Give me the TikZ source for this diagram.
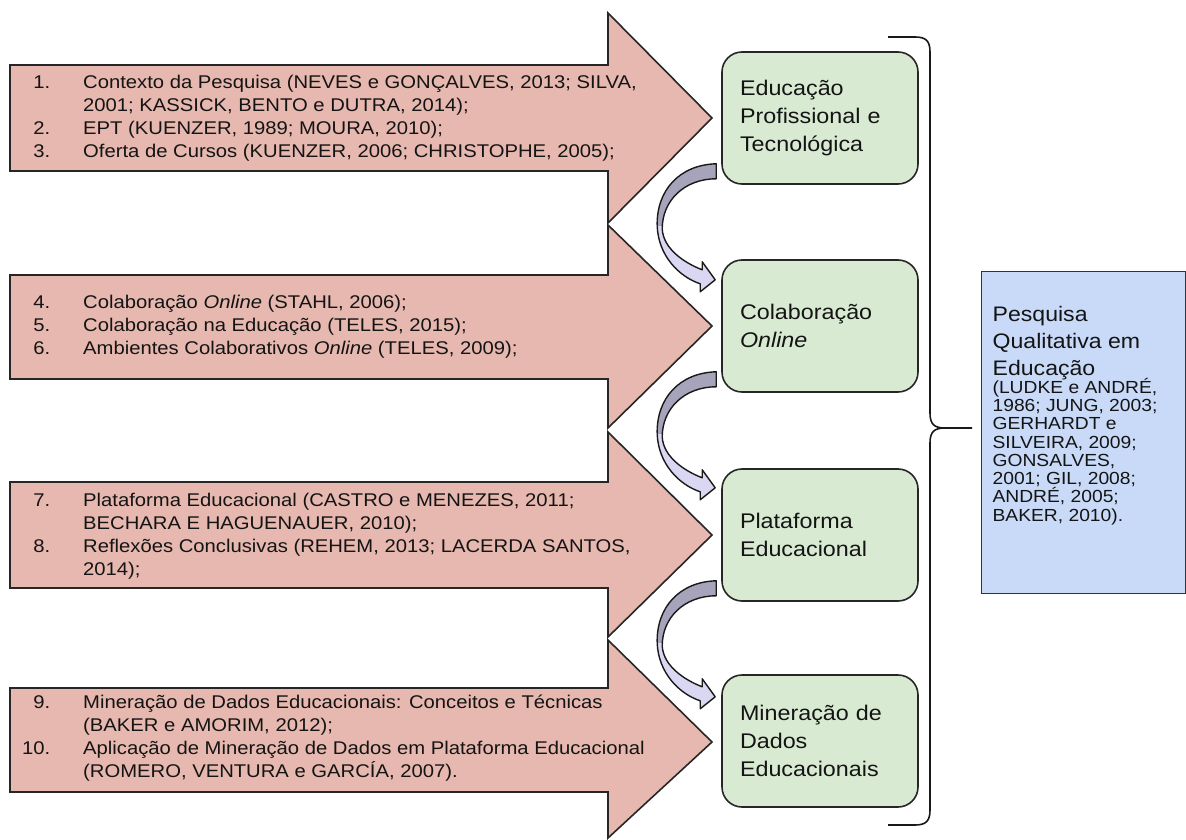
\documentclass[tikz,border=0pt]{standalone}
\usepackage{fontspec}
\setmainfont{Liberation Sans}[FakeStretch=1.1]
\definecolor{pinkfill}{HTML}{E6B8AF}
\definecolor{greenfill}{HTML}{D9EAD3}
\definecolor{bluefill}{HTML}{C9DAF8}
\definecolor{lavfill}{HTML}{D9D7F1}
\definecolor{grayfill}{HTML}{A6A4BA}
\definecolor{textc}{HTML}{141414}
\newcommand\itm[1]{\makebox[40pt][r]{#1}\hspace{33pt}}
\newcommand\cont{\hspace*{73pt}}
\def\cpath{(-5,-21) .. controls (-42,-20) and (-65,6) .. (-64,41) .. controls (-63,71) and (-42,92) .. (-21,99) -- (-21,107) -- (-6,95) -- (-19,77) -- (-19,85) .. controls (-37,78) and (-58,64) .. (-59,44) .. controls (-59,16) and (-37,-6) .. (-5,-6) -- cycle}
\newcommand\curvarrow[1]{%
  \begin{scope}[shift={(#1.south west)}]
    \begin{scope}
      \clip \cpath;
      \fill[lavfill] (-80,-30) rectangle (5,120);
      \fill[grayfill] (-80,-30) rectangle (5,41);
    \end{scope}
    \draw[line width=1.4pt, line join=round, draw=black!90] \cpath;
  \end{scope}}
\begin{document}
\begin{tikzpicture}[x=1pt,y=-1pt,
  bigarrow/.style={draw=black!85, line width=1.6pt, fill=pinkfill, line join=miter},
  atext/.style={anchor=west, align=left, inner sep=0pt, font=\fontsize{18.4}{23}\selectfont, text=textc},
  gbox/.style={draw=black!85, line width=1.6pt, fill=greenfill, rounded corners=20pt,
    minimum width=196pt, minimum height=132pt, text width=160pt, inner xsep=18pt,
    align=left, font=\fontsize{21.2}{28}\selectfont, text=textc},
  qbox/.style={draw=black!80, line width=1.2pt, fill=bluefill, anchor=north west, inner sep=0pt,
    minimum width=204pt, minimum height=322pt, text=textc},
  brace/.style={line width=1.6pt, draw=black!90}]
\useasboundingbox (0,0) rectangle (1186,840);

% big arrows
\draw[bigarrow] (10,65) -- (608,65) -- (608,13) -- (712,118) -- (608,223) -- (608,171) -- (10,171) -- cycle;
\draw[bigarrow] (10,275) -- (608,275) -- (608,225) -- (712,326) -- (608,428) -- (608,379) -- (10,379) -- cycle;
\draw[bigarrow] (10,482) -- (608,482) -- (608,432) -- (712,535) -- (608,637) -- (608,588) -- (10,588) -- cycle;
\draw[bigarrow] (10,688) -- (608,688) -- (608,640) -- (712,742) -- (608,838) -- (608,792) -- (10,792) -- cycle;

\node[atext] (t1) at (10,118) {\itm{1.}Contexto da Pesquisa (NEVES e GONÇALVES, 2013; SILVA,\\\cont 2001; KASSICK, BENTO e DUTRA, 2014);\\\itm{2.}EPT (KUENZER, 1989; MOURA, 2010);\\\itm{3.}Oferta de Cursos (KUENZER, 2006; CHRISTOPHE, 2005);};
\node[atext] (t2) at (10,327) {\itm{4.}Colaboração \textit{Online} (STAHL, 2006);\\\itm{5.}Colaboração na Educação (TELES, 2015);\\\itm{6.}Ambientes Colaborativos \textit{Online} (TELES, 2009);};
\node[atext] (t3) at (10,536) {\itm{7.}Plataforma Educacional (CASTRO e MENEZES, 2011;\\\cont BECHARA E HAGUENAUER, 2010);\\\itm{8.}Reflexões Conclusivas (REHEM, 2013; LACERDA SANTOS,\\\cont 2014);};
\node[atext] (t4) at (10,738) {\itm{9.}Mineração de Dados Educacionais: Conceitos e Técnicas\\\cont (BAKER e AMORIM, 2012);\\\itm{10.}Aplicação de Mineração de Dados em Plataforma Educacional\\\cont (ROMERO, VENTURA e GARCÍA, 2007).};

% green boxes
\node[gbox] (g1) at (820,118) {Educação\\Profissional e\\Tecnológica};
\node[gbox] (g2) at (820,326) {Colaboração\\\textit{Online}};
\node[gbox] (g3) at (820,535) {Plataforma\\Educacional};
\node[gbox] (g4) at (820,741) {Mineração de\\Dados\\Educacionais};

% curved arrows
\curvarrow{g1}
\curvarrow{g2}
\curvarrow{g3}

% brace
\coordinate (bt) at (972,428);
\draw[brace] (888,37) -- (915,37) .. controls (926,37) and (930,41) .. (930,52) -- (930,413) .. controls (930,424) and (934,428) .. (945,428) -- (bt);
\draw[brace] (945,428) .. controls (934,428) and (930,432) .. (930,443) -- (930,810) .. controls (930,821) and (926,825) .. (915,825) -- (888,825);

% blue box
\node[qbox] (q) at (981,271) {\parbox[c][252pt][t]{182pt}{\raggedright
\fontsize{21}{27}\selectfont Pesquisa\\Qualitativa em\\Educação\par
\vspace{-3.3pt}\fontsize{17.5}{18.3}\selectfont (LUDKE e ANDRÉ,\\1986; JUNG, 2003;\\GERHARDT e\\SILVEIRA, 2009;\\GONSALVES,\\2001; GIL, 2008;\\ANDRÉ, 2005;\\BAKER, 2010).}};
\end{tikzpicture}
\end{document}
